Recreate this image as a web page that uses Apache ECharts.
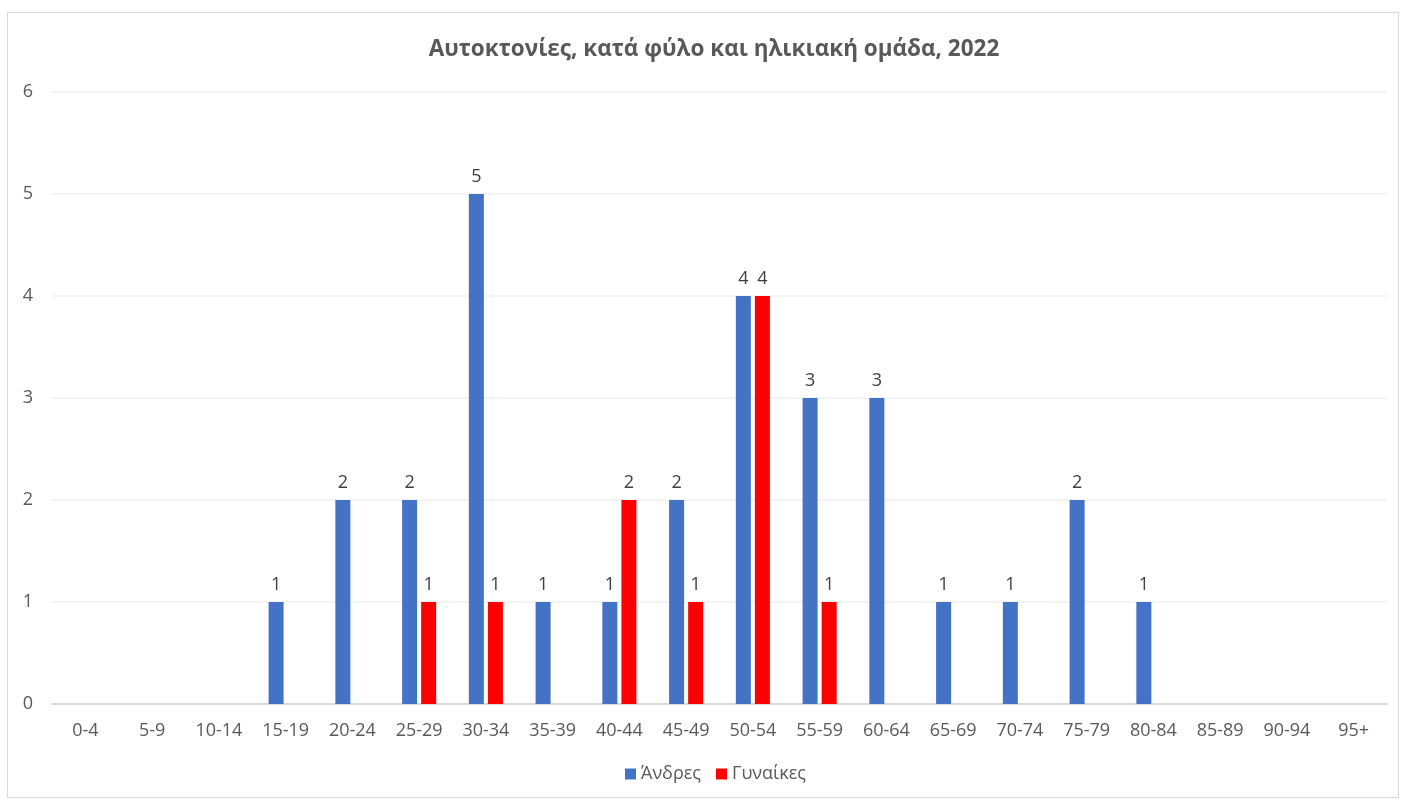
<!DOCTYPE html>
<html><head><meta charset="utf-8">
<script src="https://cdn.jsdelivr.net/npm/echarts@6/dist/echarts.min.js"></script>
<style>html,body{margin:0;padding:0;background:#fff;}#c{width:1403px;height:802px;}
#frame{position:absolute;left:7px;top:12px;width:1390px;height:784px;border:1px solid #d9d9d9;pointer-events:none;}</style>
</head><body><div id="c"></div><div id="frame"></div>
<script>
const titleText = 'Αυτοκτονίες, κατά φύλο και ηλικιακή ομάδα, 2022';
const categories = ['0-4','5-9','10-14','15-19','20-24','25-29','30-34','35-39','40-44','45-49','50-54','55-59','60-64','65-69','70-74','75-79','80-84','85-89','90-94','95+'];
const seriesNames = ['Άνδρες','Γυναίκες'];
const men = [null,null,null,1,2,2,5,1,1,2,4,3,3,1,1,2,1,null,null,null];
const women = [null,null,null,null,null,1,1,null,2,1,4,1,null,null,null,null,null,null,null,null];
const yTicks = [0,1,2,3,4,5,6];

const font = '"Open Sans", "Noto Sans", sans-serif';
const chart = echarts.init(document.getElementById('c'));
const lbl = {show:true, position:'top', distance:8, color:'#404040', fontSize:18, fontFamily:font};
chart.setOption({
  animation:false,
  title:{text:titleText, left:709, textAlign:'center', top:33, textStyle:{fontFamily:font, fontSize:22.5, fontWeight:'bold', color:'#595959'}},
  legend:{bottom:14, left:620, itemWidth:11, itemHeight:11, itemGap:15, icon:'rect', textStyle:{fontFamily:font, fontSize:18, color:'#595959'}, data:seriesNames},
  grid:{left:52, right:16, top:92, bottom:98},
  xAxis:{type:'category', data:categories, axisTick:{show:false}, axisLine:{lineStyle:{color:'#d9d9d9', width:2}}, axisLabel:{color:'#595959', fontSize:18, fontFamily:font, margin:18}},
  yAxis:{type:'value', min:yTicks[0], max:yTicks[yTicks.length-1], interval:1, axisLine:{show:false}, axisTick:{show:false}, splitLine:{lineStyle:{color:'#efefef', width:1.5}}, axisLabel:{color:'#595959', fontSize:18, fontFamily:font, margin:19}},
  series:[
    {name:seriesNames[0], type:'bar', data:men, barWidth:15, barGap:'27%', itemStyle:{color:'#4472C4'}, label:lbl},
    {name:seriesNames[1], type:'bar', data:women, barWidth:15, itemStyle:{color:'#FF0000'}, label:lbl}
  ]
});
</script></body></html>
